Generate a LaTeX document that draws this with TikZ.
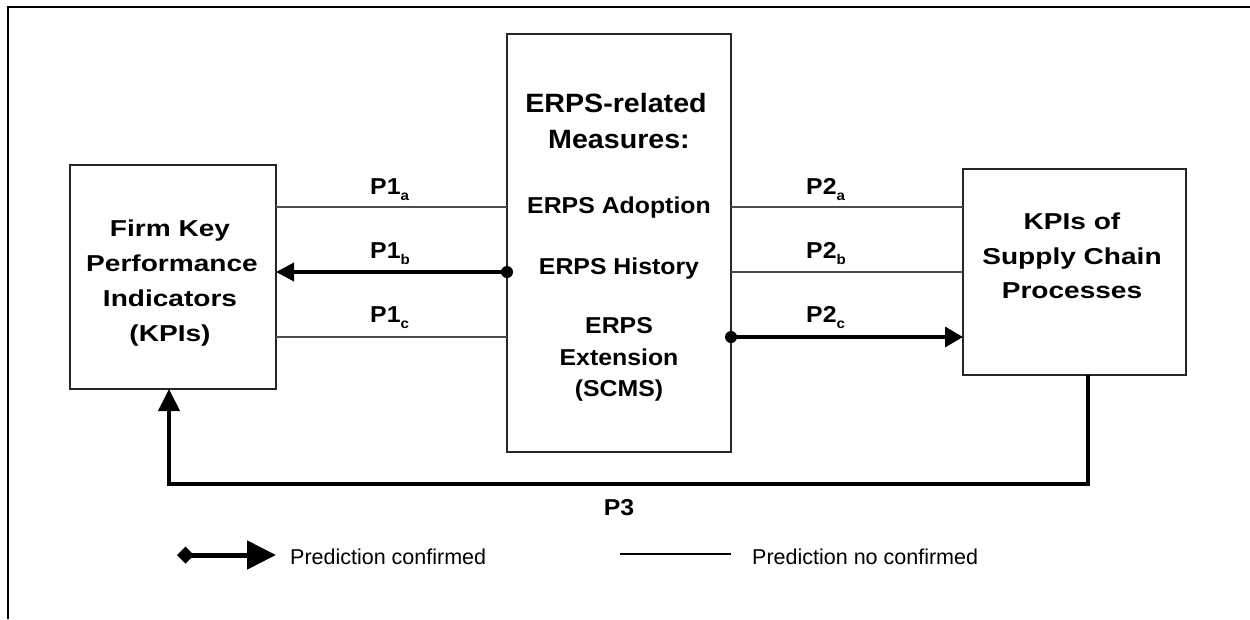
\documentclass[tikz,border=0pt]{standalone}
\usepackage{fontspec}
\setmainfont{Liberation Sans}
\newfontfamily\fside[FakeStretch=1.22]{Liberation Sans}
\newfontfamily\fmid[FakeStretch=1.08]{Liberation Sans}
\usetikzlibrary{arrows.meta}
\newcommand\sbx[1]{\raisebox{-6pt}{\fontsize{14}{14}\selectfont #1}}
\begin{document}
\begin{tikzpicture}[x=1pt,y=-1pt,
  box/.style={draw=black!85,line width=1.4pt,inner sep=0pt,outer sep=0pt},
  nc/.style={draw=black!70,line width=1.1pt},
  conf/.style={draw=black,line width=4pt,line join=miter},
  sidetxt/.style={inner sep=0pt,anchor=base,font=\fside\bfseries\fontsize{23}{28}\selectfont},
  midtxt/.style={inner sep=0pt,anchor=base,font=\fmid\bfseries\fontsize{23}{28}\selectfont},
  toptxt/.style={inner sep=0pt,anchor=base,font=\fmid\bfseries\fontsize{26.5}{30}\selectfont},
  plab/.style={inner sep=0pt,anchor=base west,font=\fmid\bfseries\fontsize{23}{28}\selectfont},
  legtxt/.style={inner sep=0pt,anchor=base west,font=\fontsize{21.5}{26}\selectfont}]
\useasboundingbox (0,0) rectangle (1250,619);
% frame
\draw[line width=2.3pt] (8,619) -- (8,7) -- (1250,7);
% boxes
\node[box,minimum width=206pt,minimum height=224pt] (L) at (173,277) {};
\node[box,minimum width=224pt,minimum height=418pt] (M) at (619,243) {};
\node[box,minimum width=223pt,minimum height=206pt] (R) at (1074.5,272) {};
% left text
\node[sidetxt] (l1) at (170,236) {Firm Key};
\node[sidetxt] (l2) at (172,271) {Performance};
\node[sidetxt] (l3) at (170,306) {Indicators};
\node[sidetxt] (l4) at (170,341) {(KPIs)};
% right text
\node[sidetxt] (r1) at (1072,229) {KPIs of};
\node[sidetxt] (r2) at (1072,264) {Supply Chain};
\node[sidetxt] (r3) at (1072,298) {Processes};
% middle text
\node[toptxt] (m1) at (616,112) {ERPS-related};
\node[toptxt] (m2) at (619,148) {Measures:};
\node[midtxt] (m3) at (619,213) {ERPS Adoption};
\node[midtxt] (m4) at (619,274) {ERPS History};
\node[midtxt] (m5) at (619,333) {ERPS};
\node[midtxt] (m6) at (619,365) {Extension};
\node[midtxt] (m7) at (619,396) {(SCMS)};
% y levels
\coordinate (ya) at (0,207);
\coordinate (yb) at (0,272);
\coordinate (yc) at (0,337);
% connectors left
\draw[nc] (L.east |- ya) -- (M.west |- ya);
\draw[line width=3.5pt,-{Triangle[length=18pt,width=18pt]}] (M.west |- yb) -- (L.east |- yb);
\fill (M.west |- yb) circle (6);
\draw[nc] (L.east |- yc) -- (M.west |- yc);
% connectors right
\draw[nc] (M.east |- ya) -- (R.west |- ya);
\draw[nc] (M.east |- yb) -- (R.west |- yb);
\draw[line width=3.5pt,-{Triangle[length=18pt,width=20pt]}] (M.east |- yc) -- (R.west |- yc);
\fill (M.east |- yc) circle (6);
% labels
\node[plab] (p1a) at (370,194) {P1\sbx{a}};
\node[plab] (p1b) at (370,258) {P1\sbx{b}};
\node[plab] (p1c) at (370,322) {P1\sbx{c}};
\node[plab] (p2a) at (806,194) {P2\sbx{a}};
\node[plab] (p2b) at (806,258) {P2\sbx{b}};
\node[plab] (p2c) at (806,322) {P2\sbx{c}};
% P3
\coordinate (p3r) at (1088,484);
\coordinate (p3l) at (169,484);
\draw[conf,-{Triangle[length=22pt,width=21pt]}] (R.south -| p3r) -- (p3r) -- (p3l) -- (L.south -| p3l);
\node[midtxt] (p3) at (619,515) {P3};
% legend
\coordinate (lg1) at (177,555);
\coordinate (lg2) at (276,555);
\draw[line width=5pt,{Turned Square[length=17pt,width=17pt]}-{Triangle[length=29pt,width=28pt]}] (lg1) -- (lg2);
\node[legtxt] (t1) at (290,564) {Prediction confirmed};
\coordinate (lg3) at (620,554);
\coordinate (lg4) at (731,554);
\draw[line width=1.1pt] (lg3) -- (lg4);
\node[legtxt] (t2) at (752,564) {Prediction no confirmed};
\end{tikzpicture}
\end{document}
